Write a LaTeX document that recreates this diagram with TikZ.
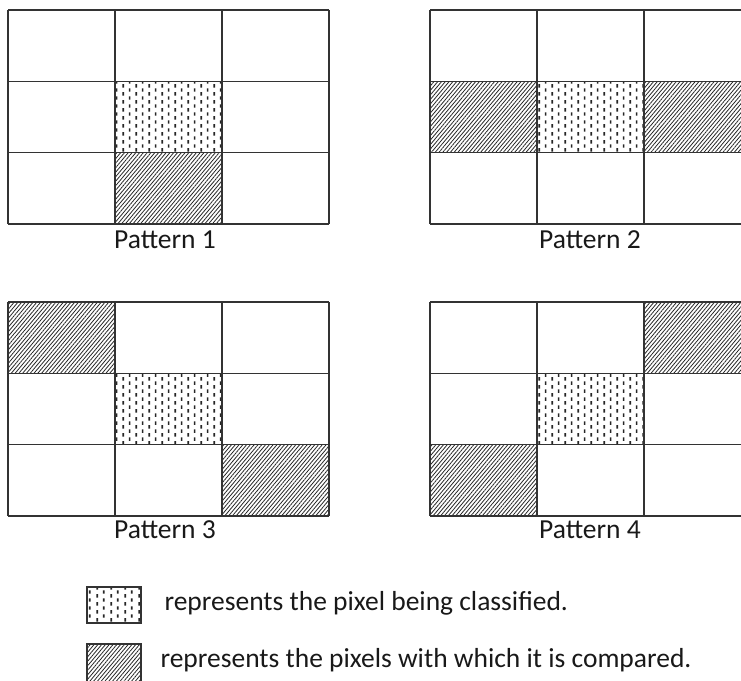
\documentclass[tikz,border=0pt]{standalone}
\usepackage{fontspec}
\setmainfont{Carlito}
\usetikzlibrary{patterns.meta}

% staggered short vertical dashes for the pixel being classified
\pgfdeclarepattern{
  name=pixdash,
  type=uncolored,
  bottom left={\pgfpoint{0pt}{0pt}},
  top right={\pgfpoint{13.4pt}{8.4pt}},
  tile size={\pgfpoint{13.4pt}{8.4pt}},
  code={
    \pgfsetlinewidth{1.7pt}
    \pgfpathmoveto{\pgfpoint{3.35pt}{0.3pt}}
    \pgfpathlineto{\pgfpoint{3.35pt}{4.0pt}}
    \pgfpathmoveto{\pgfpoint{10.05pt}{4.5pt}}
    \pgfpathlineto{\pgfpoint{10.05pt}{8.2pt}}
    \pgfusepath{stroke}
  }
}

\tikzset{
  gridline/.style={draw=black!80, line width=1.5pt},
  centre/.style={pattern=pixdash, pattern color=black!85},
  compared/.style={pattern={Lines[angle=50,distance=2.9pt,line width=0.8pt]},
                   pattern color=black!85},
  caption/.style={font=\fontsize{27.5}{32}\selectfont, text=black!90},
}
\newcommand{\pixcell}[3]{\fill[#3] ({#1*107},{#2*71.33}) rectangle ({(#1+1)*107},{(#2+1)*71.33});}
\newcommand{\pixgrid}{%
  \foreach \i in {0,...,3} {\draw[gridline] (\i*107,0) -- (\i*107,214);}
  \foreach \j in {0,...,3} {\draw[gridline] (0,\j*71.33) -- (321,\j*71.33);}}

\begin{document}
\begin{tikzpicture}[x=1pt,y=-1pt]
  \useasboundingbox[fill=white] (0,0) rectangle (741,680);

  % Pattern 1
  \begin{scope}[shift={(8,10)}]
    \pixcell{1}{1}{centre}
    \pixcell{1}{2}{compared}
    \pixgrid
  \end{scope}
  \node[caption] (cap1) at (165,240) {Pattern 1};

  % Pattern 2
  \begin{scope}[shift={(430,10)}]
    \pixcell{1}{1}{centre}
    \pixcell{0}{1}{compared}
    \pixcell{2}{1}{compared}
    \pixgrid
  \end{scope}
  \node[caption] (cap2) at (590,240) {Pattern 2};

  % Pattern 3
  \begin{scope}[shift={(8,302)}]
    \pixcell{1}{1}{centre}
    \pixcell{0}{0}{compared}
    \pixcell{2}{2}{compared}
    \pixgrid
  \end{scope}
  \node[caption] (cap3) at (165,530) {Pattern 3};

  % Pattern 4
  \begin{scope}[shift={(430,302)}]
    \pixcell{1}{1}{centre}
    \pixcell{2}{0}{compared}
    \pixcell{0}{2}{compared}
    \pixgrid
  \end{scope}
  \node[caption] (cap4) at (590,530) {Pattern 4};

  % legend
  \draw[gridline, centre] (87,587) rectangle (141,623);
  \node[caption, anchor=west] (key1) at (161,603) {represents the pixel being classified.};
  \draw[gridline, compared] (87,644) rectangle (141,683);
  \node[caption, anchor=west] (key2) at (157,660) {represents the pixels with which it is compared.};
\end{tikzpicture}
\end{document}
